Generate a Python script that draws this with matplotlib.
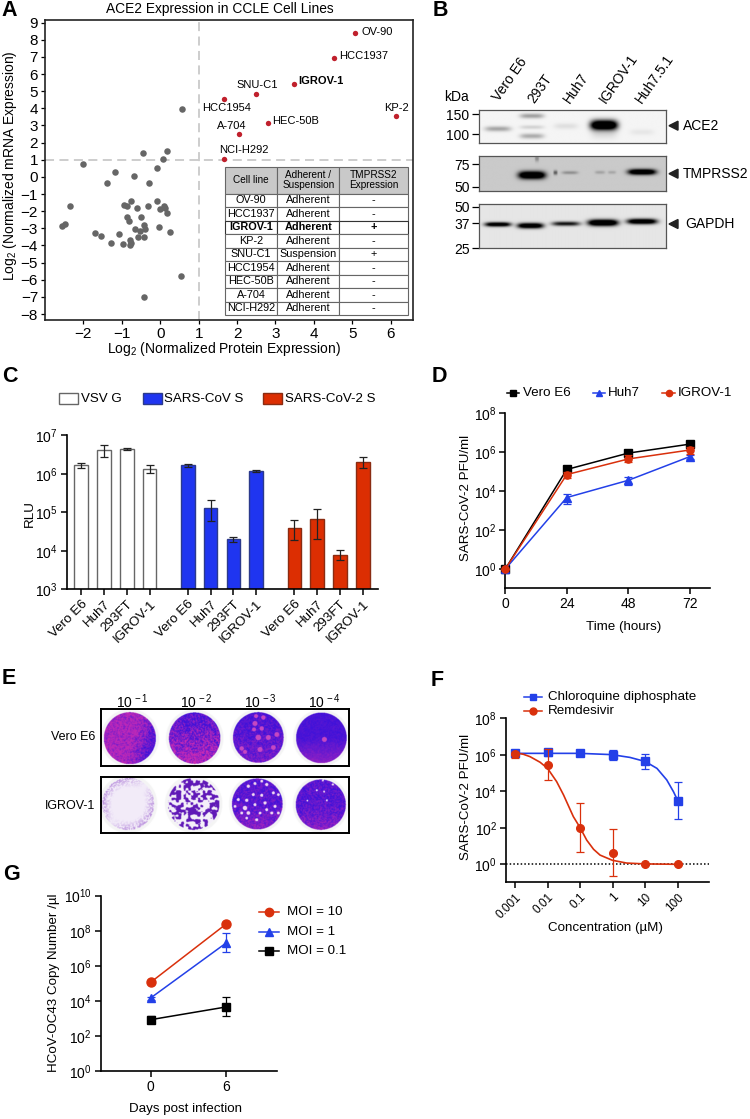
"""
plot.py
-------
Redraws the seven-panel ACE2 / SARS-CoV-2 figure and saves it as out.png.
"""

import numpy as np
import matplotlib
matplotlib.use("Agg")
import matplotlib.pyplot as plt
from matplotlib.lines import Line2D
from matplotlib.patches import Rectangle, Polygon
from matplotlib.transforms import Affine2D

# ---- Panel A data ----
gray_x = [-2.0, -1.17, -0.69, -1.38, -0.29, -0.08, 0.07, -0.46, 0.18, -2.35, -0.95, -0.86, -0.76, -0.61, -0.33,
          -0.08, 0.10, 0.0, 0.13, 0.18, -0.86, -0.82, -0.50, -0.41, -0.40, -0.65, -0.52, -0.02, 0.26, -2.48,
          -2.56, -1.71, -1.55, -1.07, -1.27, -0.96, -0.80, -0.77, -0.79, -0.57, -0.43, 0.54, -0.43, 0.56]
gray_y = [0.75, 0.28, 0.03, -0.34, -0.38, 0.49, 1.02, 1.41, 1.53, -1.70, -1.65, -1.70, -1.43, -1.84, -1.70,
          -1.43, -1.70, -1.88, -1.84, -2.13, -2.33, -2.58, -2.33, -2.83, -3.05, -3.07, -3.14, -2.93, -3.20, -2.74,
          -2.89, -3.30, -3.44, -3.34, -3.84, -3.92, -3.71, -3.86, -4.0, -3.53, -3.53, -5.79, -6.98, 3.98]
cell_lines = ["OV-90", "HCC1937", "IGROV-1", "SNU-C1", "HCC1954", "KP-2", "HEC-50B", "A-704", "NCI-H292"]
red_x = [5.07, 4.52, 3.49, 2.49, 1.66, 6.14, 2.80, 2.04, 1.65]
red_y = [8.42, 6.92, 5.44, 4.86, 4.54, 3.57, 3.16, 2.52, 1.06]
table_names = ["OV-90", "HCC1937", "IGROV-1", "KP-2", "SNU-C1", "HCC1954", "HEC-50B", "A-704", "NCI-H292"]
table_growth = ["Adherent", "Adherent", "Adherent", "Adherent", "Suspension", "Adherent", "Adherent", "Adherent", "Adherent"]
table_tmprss2 = ["-", "-", "+", "-", "+", "-", "-", "-", "-"]

# ---- Panel B data ----
lanes = ["Vero E6", "293T", "Huh7", "IGROV-1", "Huh7.5.1"]
kda_ace2 = ["150", "100"]
kda_tmprss2 = ["75", "50"]
kda_gapdh = ["50", "37", "25"]

# ---- Panel C data ----
bar_labels = ["Vero E6", "Huh7", "293FT", "IGROV-1"]
vsv = [1.66e6, 4.07e6, 4.3e6, 1.36e6]
vsv_low = [1.4e6, 2.8e6, 4.1e6, 1.03e6]
vsv_high = [1.95e6, 5.7e6, 4.6e6, 1.74e6]
cov = [1.66e6, 1.32e5, 2.0e4, 1.16e6]
cov_low = [1.5e6, 6.0e4, 1.7e4, 1.1e6]
cov_high = [1.84e6, 2.1e5, 2.3e4, 1.26e6]
cov2 = [3.8e4, 6.9e4, 8.0e3, 2.0e6]
cov2_low = [1.9e4, 2.0e4, 5.8e3, 1.45e6]
cov2_high = [6.2e4, 1.2e5, 1.07e4, 2.7e6]

# ---- Panel D data ----
hours = [0, 24, 48, 72]
vero = [1, 1.3e5, 9.0e5, 2.6e6]
vero_low = [1, 0.95e5, 7.0e5, 1.9e6]
vero_high = [1, 1.9e5, 1.2e6, 3.4e6]
huh7 = [1, 4.7e3, 3.6e4, 5.9e5]
huh7_low = [1, 2.2e3, 2.1e4, 4.6e5]
huh7_high = [1, 7.0e3, 5.1e4, 7.5e5]
igrov = [1, 7.1e4, 4.5e5, 1.3e6]
igrov_low = [1, 4.6e4, 3.0e5, 8.0e5]
igrov_high = [1, 1.0e5, 6.8e5, 1.8e6]

# ---- Panel E data ----
dilutions = ["-1", "-2", "-3", "-4"]
plate_rows = ["Vero E6", "IGROV-1"]

# ---- Panel F data ----
conc = [0.001, 0.01, 0.1, 1, 10, 100]
chloroquine = [1.2e6, 1.45e6, 1.2e6, 9.3e5, 4.3e5, 3.1e3]
chloroquine_low = [1.0e6, 0.9e6, 0.95e6, 5.0e5, 1.6e5, 3.0e2]
chloroquine_high = [1.45e6, 2.1e6, 1.5e6, 1.9e6, 1.07e6, 3.1e4]
remdesivir = [1.07e6, 2.9e5, 1.02e2, 4.4, 1.0, 1.0]
remdesivir_low = [6.5e5, 4.0e4, 4.6, 0.22, 0.9, 0.9]
remdesivir_high = [1.45e6, 2.0e6, 2.4e3, 87, 1.1, 1.1]
cq_fit_x = [0.001, 0.1, 0.98, 2.0, 3.4, 10, 23, 46, 74, 100]
cq_fit_y = [1.2e6, 1.2e6, 1.02e6, 8.3e5, 7.2e5, 4.3e5, 1.8e5, 4.2e4, 9.5e3, 3.1e3]
rem_fit_x = [0.001, 0.0018, 0.0029, 0.0059, 0.01, 0.019, 0.031, 0.062, 0.1, 0.16, 0.26, 0.41, 0.98, 2.7, 10, 100]
rem_fit_y = [1.3e6, 1.07e6, 7.9e5, 3.9e5, 1.8e5, 3.4e4, 6.3e3, 4.1e2, 1.02e2, 21, 6.6, 3.2, 1.66, 1.17, 1.05, 1.0]

# ---- Panel G data ----
days = [0, 6]
moi10 = [1.17e5, 2.4e8]
moi1 = [1.5e4, 2.0e7]
moi1_low = [1.2e4, 5.9e6]
moi1_high = [1.8e4, 7.8e7]
moi01 = [8.7e2, 4.6e3]
moi01_low = [5.4e2, 1.4e3]
moi01_high = [1.5e3, 1.7e4]

W, H = 750, 1119
BLUE = "#2340e8"
RED = "#d9300c"
FS = 9.6
plt.rcParams["font.family"] = ["Liberation Sans", "DejaVu Sans"]
plt.rcParams["mathtext.fontset"] = "custom"
plt.rcParams["mathtext.rm"] = "Liberation Sans"
plt.rcParams["mathtext.it"] = "Liberation Sans"
plt.rcParams["mathtext.bf"] = "Liberation Sans:bold"
plt.rcParams["mathtext.default"] = "regular"
plt.rcParams["font.size"] = FS

fig = plt.figure(figsize=(W / 100, H / 100), dpi=100)
# pixel coordinates from the top left corner of the picture
px = Affine2D().scale(1 / W, -1 / H).translate(0, 1) + fig.transFigure


def add_axes_px(left, top, right, bottom):
    return fig.add_axes([left / W, 1 - bottom / H, (right - left) / W, (bottom - top) / H])


def txt(x, y, s, **kw):
    kw.setdefault("va", "center")
    fig.text(x, y, s, transform=px, **kw)


def decade_labels(values):
    return ["$10^{%d}$" % round(np.log10(v)) for v in values]


def style_log_axis(ax, yticks, xlabel_pos, ylabel_pos, xlabel, ylabel):
    ax.set_yscale("log")
    ax.set_yticks(yticks)
    ax.set_yticklabels(decade_labels(yticks), fontsize=10)
    ax.yaxis.set_minor_locator(matplotlib.ticker.NullLocator())
    ax.spines["top"].set_visible(False)
    ax.spines["right"].set_visible(False)
    ax.spines["left"].set_linewidth(1.2)
    ax.spines["bottom"].set_linewidth(1.2)
    ax.tick_params(axis="both", width=1.1, length=4.5, pad=2)
    if xlabel:
        ax.set_xlabel(xlabel, fontsize=FS)
        ax.xaxis.set_label_coords(*xlabel_pos, transform=px)
    ax.set_ylabel(ylabel, fontsize=FS)
    ax.yaxis.set_label_coords(*ylabel_pos, transform=px)


def errs(values, low, high):
    v = np.array(values, dtype=float)
    return [v - np.array(low), np.array(high) - v]


def legend_line(x0, x1, y, label, tx, color, marker, ms=6):
    fig.add_artist(Line2D([x0, x1], [y, y], color=color, lw=1.1, transform=px))
    fig.add_artist(Line2D([(x0 + x1) / 2], [y], color=color, marker=marker, ms=ms, ls="", transform=px))
    txt(tx, y, label, fontsize=FS)


# ---- A: scatter and table ----
axA = add_axes_px(45, 20, 413, 320)
axA.set_xlim(-3.0, 6.58)
axA.set_ylim(-8.35, 9.15)
axA.axvline(1, color="#c9c9c9", lw=1.3, ls=(0, (5, 3)), zorder=1)
axA.axhline(1, color="#c9c9c9", lw=1.3, ls=(0, (5, 3)), zorder=1)
axA.scatter(gray_x, gray_y, s=22, color="#666666", linewidths=0, zorder=2)
axA.scatter(red_x, red_y, s=15, color="#c0202c", linewidths=0, zorder=3)
axA.set_xticks(range(-2, 7))
axA.set_yticks(range(-8, 10))
axA.tick_params(labelsize=11, length=3, width=0.9, pad=2)
for s in axA.spines.values():
    s.set_linewidth(1.2)
    s.set_color("#222222")
axA.set_xlabel("Log$_2$ (Normalized Protein Expression)", fontsize=10)
axA.xaxis.set_label_coords(224, 340, transform=px)
axA.set_ylabel("Log$_2$ (Normalized mRNA Expression)", fontsize=10)
axA.yaxis.set_label_coords(19, 166, transform=px)
txt(219.5, 8.5, "ACE2 Expression in CCLE Cell Lines", fontsize=9.9, ha="center")
label_pos = {"OV-90": (5.23, 8.47), "HCC1937": (4.65, 7.05), "IGROV-1": (3.60, 5.6), "SNU-C1": (1.98, 5.34),
             "HCC1954": (1.10, 4.04), "KP-2": (5.83, 4.04), "HEC-50B": (2.92, 3.28), "A-704": (1.49, 2.97),
             "NCI-H292": (1.52, 1.57)}
for name in cell_lines:
    axA.text(*label_pos[name], name, fontsize=8, va="center", zorder=4,
             fontweight="bold" if name == "IGROV-1" else "normal")

rows = [list(r) for r in zip(table_names, table_growth, table_tmprss2)]
tbl = axA.table(cellText=rows, colLabels=["Cell line", "Adherent /\nSuspension", "TMPRSS2\nExpression"],
                colWidths=[52.6, 62, 68.7], cellLoc="center",
                bbox=[179.7 / 368, 5 / 300, 183.3 / 368, 148.3 / 300], zorder=5)
tbl.auto_set_font_size(False)
tbl.set_fontsize(7.8)
for (r, c), cell in tbl.get_celld().items():
    cell.set_linewidth(0.8)
    cell.set_edgecolor("#666666")
    cell.set_height(2.0 if r == 0 else 1.0)
    cell.PAD = 0.02
    if r == 0:
        cell.set_facecolor("#c9c9c9")
        cell.get_text().set_fontsize(7.2)
        cell.get_text().set_linespacing(0.95)
    if r == 3:
        cell.get_text().set_fontweight("bold")
        cell.set_edgecolor("#333333")


# ---- B: western blots, bands are (lane x, y, half width, half height, darkness) ----
def draw_blot(top, bottom, ticks, labels, background, bands):
    left, right = 479.3, 665.7
    ax = add_axes_px(left, top, right, bottom)
    xx, yy = np.meshgrid(np.linspace(left, right, 372), np.linspace(top, bottom, int((bottom - top) * 2)))
    img = np.full(xx.shape, background)
    for bx, by, hw, hh, dark in bands:
        shape = np.exp(-(np.abs(xx - bx) / hw) ** 4) * np.exp(-(np.abs(yy - by) / hh) ** 2)
        img = img * (1 - np.clip(dark * shape, 0, 1))
    ax.imshow(img, extent=(left, right, bottom, top), aspect="auto", cmap="gray", vmin=0, vmax=1,
              interpolation="bilinear")
    ax.set_xticks([])
    ax.set_yticks(ticks)
    ax.set_yticklabels(labels, fontsize=10)
    ax.tick_params(axis="y", length=5, width=0.9, pad=2)
    for s in ax.spines.values():
        s.set_linewidth(0.9)
        s.set_color("#555555")


draw_blot(110, 142.7, [114.3, 134.3], kda_ace2, 0.96,
          [(498, 128.7, 13, 2.6, 0.33), (532, 115.7, 12, 2.5, 0.35), (532, 127, 12, 2, 0.14), (532, 136, 12, 2.6, 0.3),
           (566, 126, 12, 3, 0.09), (604, 125, 13.5, 5, 1.6), (604, 134, 13, 5, 0.1), (642, 132, 12, 3, 0.06)])
draw_blot(155.7, 191, [164.3, 187], kda_tmprss2, 0.79,
          [(532, 175.5, 13.5, 3.8, 1.6), (555.5, 173, 2, 2.2, 0.55), (570, 173, 8, 1.6, 0.3),
           (600, 172.7, 5, 1.6, 0.2), (612, 172.7, 4, 1.5, 0.18), (642, 172.3, 14, 2.8, 1.5), (537, 159, 2, 3, 0.3)])
draw_blot(204.3, 248.3, [206.7, 223.3, 248.3], kda_gapdh, 0.9,
          [(498, 224.7, 13, 2.2, 1.3), (530.5, 226, 13, 2.7, 1.4), (566, 224, 14, 2.2, 0.95),
           (603, 223, 15, 3.2, 1.6), (642, 221.7, 15, 2.7, 1.4)])
txt(469, 96.7, "kDa", fontsize=10, ha="right")
lane_xy = [(496, 100), (531, 102), (566.5, 102), (602, 102), (639, 102)]
for lane, (lx, ly) in zip(lanes, lane_xy):
    fig.text(lx, ly, lane, transform=px, rotation=55, rotation_mode="anchor", ha="left", va="center", fontsize=10)
for name, y, lx in [("ACE2", 125.7, 683), ("TMPRSS2", 173.7, 683), ("GAPDH", 224, 685)]:
    fig.add_artist(Polygon([[669, y], [678, y - 4.5], [678, y + 4.5]], closed=True, color="#222222", transform=px))
    txt(lx, y, name, fontsize=10)

# ---- C: bars ----
axC = add_axes_px(66.7, 435.3, 377.7, 589.3)
axC.set_xlim(-0.64, 13.02)
axC.set_ylim(1e3, 1e7)
groups = [(vsv, vsv_low, vsv_high, "white", "#666666", 0.0),
          (cov, cov_low, cov_high, "#1f35f0", "#2b3a8c", 4.68),
          (cov2, cov2_low, cov2_high, "#dc2e02", "#8a2c12", 9.36)]
xtick_pos = []
xtick_lab = []
for vals, low, high, face, edge, offset in groups:
    pos = np.arange(len(vals)) + offset
    axC.bar(pos, vals, width=0.6, color=face, edgecolor=edge, lw=1.0, bottom=0, zorder=2)
    axC.errorbar(pos, vals, yerr=errs(vals, low, high), fmt="none", ecolor="#222222", elinewidth=0.9,
                 capsize=2.6, capthick=0.9, zorder=3)
    xtick_pos += list(pos)
    xtick_lab += bar_labels
style_log_axis(axC, [1e3, 1e4, 1e5, 1e6, 1e7], None, (36, 514), None, "RLU")
axC.set_xticks(xtick_pos)
axC.set_xticklabels(xtick_lab, rotation=45, ha="right", rotation_mode="anchor", fontsize=FS)
for x0, face, edge, name, tx in [(58.7, "white", "#666666", "VSV G", 81), (142.7, "#1f35f0", "#2b3a8c", "SARS-CoV S", 164.5),
                                 (263, "#dc2e02", "#8a2c12", "SARS-CoV-2 S", 285)]:
    fig.add_artist(Rectangle((x0, 393), 19, 10.5, facecolor=face, edgecolor=edge, lw=1.0, transform=px))
    txt(tx, 398.7, name, fontsize=FS)

# ---- D: growth curves ----
axD = add_axes_px(505.3, 413.3, 710, 588.3)
axD.set_xlim(0, 79.95)
axD.set_ylim(10 ** -0.99, 1e8)
for vals, low, high, col, mk, z in [(vero, vero_low, vero_high, "black", "s", 3),
                                    (huh7, huh7_low, huh7_high, BLUE, "^", 4),
                                    (igrov, igrov_low, igrov_high, RED, "o", 5)]:
    axD.errorbar(hours, vals, yerr=errs(vals, low, high), color=col, marker=mk, ms=5.2, lw=1.1, elinewidth=0.9,
                 capsize=2.6, capthick=0.9, clip_on=False, zorder=z)
style_log_axis(axD, [1, 1e2, 1e4, 1e6, 1e8], (624, 621), (472, 498), "Time (hours)", "SARS-CoV-2 PFU/ml")
axD.set_xticks(hours)
axD.tick_params(axis="x", labelsize=10)
legend_line(507, 519, 392.7, "Vero E6", 523, "black", "s", 4.5)
legend_line(593, 605, 392.7, "Huh7", 608, BLUE, "^", 4.5)
legend_line(662, 675, 392.7, "IGROV-1", 678, RED, "o", 4.5)


# ---- E: plaque assay photographs, approximated from the visible colours and plaques ----
def grain(xx, yy, cell):
    """Smooth deterministic photo grain in 0..1, made from a hashed grid."""
    u, v = xx / cell, yy / cell
    i, j = np.floor(u), np.floor(v)
    fu, fv = u - i, v - j
    fu, fv = fu * fu * (3 - 2 * fu), fv * fv * (3 - 2 * fv)

    def corner(a, b):
        val = np.sin(a * 12.9898 + b * 78.233) * 43758.5453
        return val - np.floor(val)

    return ((1 - fu) * (1 - fv) * corner(i, j) + fu * (1 - fv) * corner(i + 1, j)
            + (1 - fu) * fv * corner(i, j + 1) + fu * fv * corner(i + 1, j + 1))


def draw_plates(top, bottom, plates, row_kind):
    left, right = 101.3, 348.7
    ax = add_axes_px(left, top, right, bottom)
    xx, yy = np.meshgrid(np.linspace(left, right, 742), np.linspace(top, bottom, int((bottom - top) * 3)))
    img = np.ones(xx.shape + (3,))
    blue = np.array([0.25, 0.07, 0.85])
    pink = np.array([0.74, 0.16, 0.72])
    white = np.array([0.96, 0.94, 0.98])
    fine = grain(xx, yy, 0.9) - 0.5
    blob = grain(xx, yy, 2.4) * 0.8 + grain(xx, yy, 1.1) * 0.2
    for cx, cy, r, kind, spots in plates:
        dx, dy = (xx - cx) / r, (yy - cy) / r
        rr = np.hypot(dx, dy)
        if kind == "lawn":           # pink lawn with a blue lower right side
            mix = np.clip(0.85 - 1.1 * np.clip(dx * 0.8 + dy * 0.25 - 0.1, 0, 1) + 1.0 * fine, 0, 1)
        elif kind == "mixed":
            mix = np.clip(0.5 + 0.45 * dy + 1.4 * fine, 0, 1) + 0.5 * np.clip(fine - 0.1, 0, 1) * (dy > 0)
        elif kind == "spots":
            mix = np.clip(0.22 + 0.2 * dy + 0.8 * fine, 0, 1)
        elif kind == "blue":
            mix = np.clip(0.08 + 0.55 * np.clip(dy, 0, 1) + 0.3 * fine, 0, 1)
        else:
            mix = np.clip(0.2 + 0.4 * np.clip(dy, 0, 1) + 0.8 * fine, 0, 1)
        color = blue + (pink - blue) * mix[..., None]
        if kind == "cleared":        # nearly all of the lawn is gone
            side = np.clip(dx * 0.6 + dy * 0.6, 0, 1) + np.clip(-dx * 0.7 - dy * 0.6, 0, 1)
            pur = 0.6 * np.clip((fine + 0.12) * 4, 0, 0.75) * np.clip((rr - 0.62) * 3, 0, 1) * np.clip(side * 2, 0, 1) + 0.02
            color = white + (np.array([0.5, 0.2, 0.75]) - white) * pur[..., None]
        if kind == "holes":          # white field with purple islands
            pur = np.clip((blob - 0.47) * 16, 0, 1)
            color = white + (np.array([0.38, 0.1, 0.72]) - white) * pur[..., None]
        spot_color = np.array([0.95, 0.85, 0.95]) if row_kind == "white_spots" else np.array([0.78, 0.28, 0.76])
        for sx, sy, sr in spots:
            mask = np.hypot(xx - sx, yy - sy) < sr
            color[mask] = spot_color
        inside = rr <= 1
        img[inside] = color[inside]
        rim = (rr > 1.0) & (rr < 1.12)
        img[rim] = np.minimum(img[rim], 0.96)
    ax.imshow(img, extent=(left, right, bottom, top), aspect="auto", interpolation="bilinear")
    ax.set_xticks([])
    ax.set_yticks([])
    for s in ax.spines.values():
        s.set_linewidth(1.4)


vero_spots_3 = [(255, 723.3, 2.5), (263.3, 717.3, 2.2), (256, 716, 2), (261.7, 728.3, 2.2), (254, 729.3, 2), (258.3, 737.3, 2.8),
                (268.3, 737.3, 2.5), (276.7, 734.3, 2.4), (273.3, 747.3, 2.4), (260, 749.3, 2.5), (241.7, 748.3, 2.2), (245, 751.7, 2)]
vero_spots_4 = [(324.3, 739.3, 2.5)]
igrov_spots_3 = [(248.3, 786.7, 1.6), (255, 784, 1.5), (261.7, 781.7, 1.4), (266.7, 785, 1.6), (253.3, 795, 1.5), (261.7, 795.7, 1.5),
                 (273.3, 793.3, 1.5), (278.3, 795, 1.4), (238.3, 800, 1.5), (246.7, 800.7, 1.6), (255, 805, 1.5), (265, 803.3, 1.6),
                 (275, 806.7, 1.5), (235, 806.7, 1.4), (245, 808.3, 2.2), (241.7, 813.3, 1.5), (248.3, 813.3, 1.8), (256.7, 820, 1.5),
                 (266.7, 810, 1.5), (271.7, 813.3, 1.5), (260, 813.3, 1.4), (246.7, 818.3, 1.4), (278.3, 813.3, 1.4)]
igrov_spots_4 = [(316.7, 790.7, 1), (324, 792, 1), (322.7, 781, 1), (332.7, 785, 1.1), (307.3, 801, 0.9), (326.7, 800.7, 1)]
draw_plates(709, 765.7, [(130, 738, 26, "lawn", []), (194.7, 738, 25.7, "mixed", []),
                         (258.3, 737.3, 25.3, "spots", vero_spots_3), (321.3, 737.7, 25.3, "blue", vero_spots_4)], "pink_spots")
draw_plates(776.7, 833, [(128.3, 804.3, 26, "cleared", []), (193.7, 804.3, 25.7, "holes", []),
                         (257.3, 804.3, 25.3, "plain", igrov_spots_3), (320.7, 805, 25, "plain", igrov_spots_4)], "white_spots")
for d, x in zip(dilutions, [132.7, 196.7, 260, 324]):
    txt(x, 701.5, "10$^{\\,%s}$" % d, fontsize=10, ha="center")
for name, y in zip(plate_rows, [737, 806]):
    txt(95, y, name, fontsize=9, ha="right")

# ---- F: dose response ----
axF = add_axes_px(506, 718.3, 709.3, 882.3)
axF.set_xscale("log")
axF.set_xlim(10 ** -3.277, 10 ** 2.97)
axF.set_ylim(10 ** -0.986, 1e8)
axF.axhline(1, color="black", lw=1.1, ls=(0, (1, 1.4)), zorder=1)
axF.plot(cq_fit_x, cq_fit_y, color=BLUE, lw=1.2, zorder=3)
axF.plot(rem_fit_x, rem_fit_y, color=RED, lw=1.2, zorder=4)
axF.errorbar(conc, chloroquine, yerr=errs(chloroquine, chloroquine_low, chloroquine_high), color=BLUE, fmt="s",
             ms=5.5, elinewidth=0.9, capsize=2.8, capthick=0.9, zorder=5)
axF.errorbar(conc, remdesivir, yerr=errs(remdesivir, remdesivir_low, remdesivir_high), color=RED, fmt="o",
             ms=5.5, elinewidth=0.9, capsize=2.8, capthick=0.9, zorder=6)
style_log_axis(axF, [1, 1e2, 1e4, 1e6, 1e8], (605, 922), (472, 797), "Concentration (µM)", "SARS-CoV-2 PFU/ml")
axF.set_xticks(conc)
axF.xaxis.set_minor_locator(matplotlib.ticker.NullLocator())
axF.set_xticklabels(["0.001", "0.01", "0.1", "1", "10", "100"], rotation=45, ha="right", rotation_mode="anchor", fontsize=8.5)
legend_line(524, 542, 696.7, "Chloroquine diphosphate", 547.7, BLUE, "s", 5)
legend_line(524, 542, 710.7, "Remdesivir", 547.7, RED, "o", 5)

# ---- G: HCoV-OC43 ----
axG = add_axes_px(100.7, 895.7, 276.7, 1071.3)
axG.set_xlim(-3.98, 10.04)
axG.set_ylim(1, 1e10)
axG.plot(days, moi10, color=RED, marker="o", ms=6.5, lw=1.1, zorder=5, clip_on=False)
axG.errorbar(days, moi1, yerr=errs(moi1, moi1_low, moi1_high), color=BLUE, marker="^", ms=5.5, lw=1.1, elinewidth=0.9,
             capsize=2.8, capthick=0.9, zorder=4)
axG.errorbar(days, moi01, yerr=errs(moi01, moi01_low, moi01_high), color="black", marker="s", ms=5.5, lw=1.1, elinewidth=0.9,
             capsize=2.8, capthick=0.9, zorder=3)
style_log_axis(axG, [1, 1e2, 1e4, 1e6, 1e8, 1e10], (185.7, 1103), (60, 983), "Days post infection", "HCoV-OC43 Copy Number /µl")
axG.set_xticks(days)
axG.tick_params(axis="x", labelsize=10)
legend_line(259, 279, 912.3, "MOI = 10", 287, RED, "o", 6)
legend_line(259, 279, 931.7, "MOI = 1", 287, BLUE, "^", 5.5)
legend_line(259, 279, 950.7, "MOI = 0.1", 287, "black", "s", 5.5)

# ---- panel letters ----
for letter, x, y in [("A", 1, 10), ("B", 432.5, 10), ("C", 2, 377), ("D", 432, 376), ("E", 2, 679), ("F", 431, 680), ("G", 3, 874)]:
    txt(x, y, letter, fontsize=15.5, fontweight="bold")

fig.savefig("out.png", dpi=100)
